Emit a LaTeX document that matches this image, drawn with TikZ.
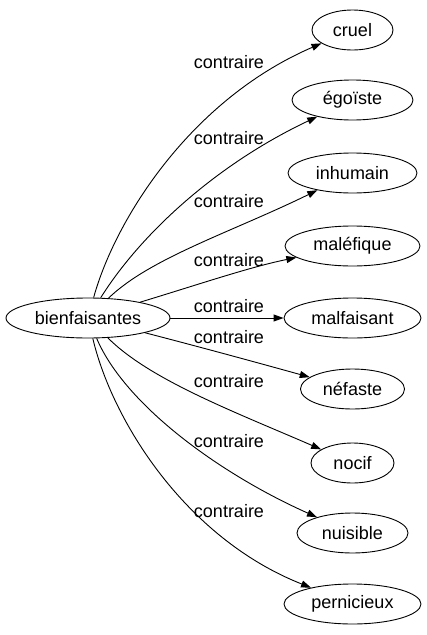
\documentclass[tikz,border=0pt]{standalone}
\usepackage{fontspec}
\setmainfont{Liberation Sans}
\usetikzlibrary{shapes.geometric,arrows.meta}

\begin{document}
\begin{tikzpicture}[x=1pt,y=-1pt,
    mot/.style={draw,ellipse,inner sep=0pt,minimum height=40pt,line width=0.9pt,
      font=\fontsize{18}{21}\selectfont},
    rel/.style={anchor=base,inner sep=0pt,font=\fontsize{18}{21}\selectfont},
    fl/.style={-{Triangle[length=10pt,width=7pt]},line width=0.9pt}]
  \useasboundingbox (0,0) rectangle (427,635);
  % mot de depart
  \node[mot,minimum width=164pt] (bienfaisantes) at (88,318) {bienfaisantes};
  % les contraires
  \node[mot,minimum width=81pt] (cruel) at (352.5,30) {cruel};
  \node[mot,minimum width=121pt] (egoiste) at (352.5,100) {égoïste};
  \node[mot,minimum width=129pt] (inhumain) at (352.5,173) {inhumain};
  \node[mot,minimum width=135pt] (malefique) at (352.5,246) {maléfique};
  \node[mot,minimum width=137pt] (malfaisant) at (352.5,318) {malfaisant};
  \node[mot,minimum width=104pt] (nefaste) at (352.5,389) {néfaste};
  \node[mot,minimum width=83pt] (nocif) at (352.5,463) {nocif};
  \node[mot,minimum width=111pt] (nuisible) at (352.5,533) {nuisible};
  \node[mot,minimum width=137pt] (pernicieux) at (352.5,604) {pernicieux};
  % les fleches
  \draw[fl] (bienfaisantes) .. controls (115,220) and (190,100) .. (cruel);
  \draw[fl] (bienfaisantes) .. controls (140,235) and (215,165) .. (egoiste);
  \draw[fl] (bienfaisantes) .. controls (150,258) and (232,232) .. (inhumain);
  \draw[fl] (bienfaisantes) .. controls (200,284) and (250,267) .. (malefique);
  \draw[fl] (bienfaisantes) -- (malfaisant);
  \draw[fl] (bienfaisantes) .. controls (200,347) and (255,362) .. (nefaste);
  \draw[fl] (bienfaisantes) .. controls (150,380) and (235,412) .. (nocif);
  \draw[fl] (bienfaisantes) .. controls (125,405) and (220,474) .. (nuisible);
  \draw[fl] (bienfaisantes) .. controls (112,420) and (185,538) .. (pernicieux);
  % etiquettes
  \node[rel] (l1) at (229,68) {contraire};
  \node[rel] (l2) at (229,144) {contraire};
  \node[rel] (l3) at (229,207) {contraire};
  \node[rel] (l4) at (229,266) {contraire};
  \node[rel] (l5) at (229,312) {contraire};
  \node[rel] (l6) at (229,343) {contraire};
  \node[rel] (l7) at (229,387) {contraire};
  \node[rel] (l8) at (229,447) {contraire};
  \node[rel] (l9) at (229,517) {contraire};
\end{tikzpicture}
\end{document}
